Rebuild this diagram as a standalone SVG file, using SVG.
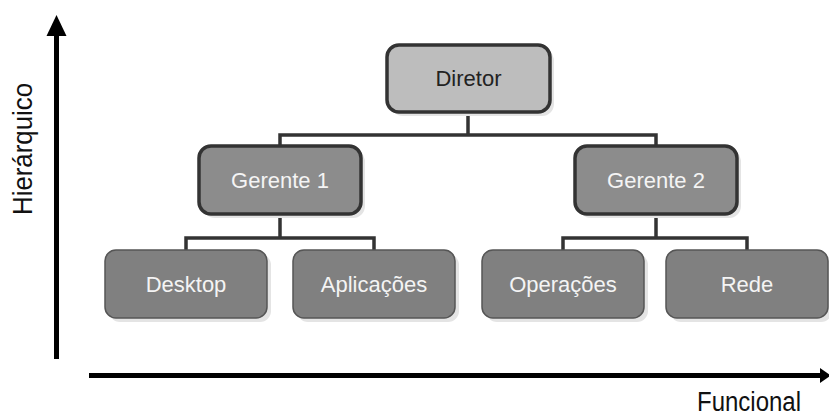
<svg xmlns="http://www.w3.org/2000/svg" width="829" height="416" viewBox="0 0 829 416">
<defs>
<style>
.shadow{fill:#e4e4e4;}
.top{fill:#bdbdbd;stroke:#333;stroke-width:3.5;}
.mid{fill:#8c8c8c;stroke:#333;stroke-width:3.5;}
.low{fill:#808080;stroke:#555;stroke-width:1.5;}
.t{font-family:"Liberation Sans",Arial,sans-serif;font-size:22px;text-anchor:middle;}
.dark{fill:#222;}
.light{fill:#f4f4f4;}
.con{fill:none;stroke:#333;stroke-width:3.5;}
.ax{font-family:"Liberation Sans",Arial,sans-serif;font-size:27px;fill:#111;}
</style>
</defs>
<rect width="829" height="416" fill="#fff"/>
<g id="axes">
<line x1="56.5" y1="359" x2="56.5" y2="34" stroke="#000" stroke-width="5"/>
<polygon points="46.5,36 56.5,15 66.5,36" fill="#000"/>
<line x1="89" y1="375.5" x2="822" y2="375.5" stroke="#000" stroke-width="5"/>
<polygon points="820,368 831,375.5 820,383" fill="#000"/>
<text class="ax" transform="translate(32,149) rotate(-90)" text-anchor="middle" textLength="132" lengthAdjust="spacingAndGlyphs">Hierárquico</text>
<text class="ax" x="697" y="411" textLength="104" lengthAdjust="spacingAndGlyphs">Funcional</text>
</g>
<g id="connectors">
<path class="con" d="M468,112V135M280,146V135H656V146"/>
<path class="con" d="M280,214V238M186,250V238H374V250"/>
<path class="con" d="M656,214V238M563,250V238H747V250"/>
</g>
<g id="diretor">
<rect class="shadow" x="391" y="49" width="163" height="67" rx="12"/>
<rect class="top" x="387" y="45" width="163" height="67" rx="12"/>
<text class="t dark" x="468.5" y="86">Diretor</text>
</g>
<g id="gerente1">
<rect class="shadow" x="203" y="150" width="162" height="68" rx="12"/>
<rect class="mid" x="199" y="146" width="162" height="68" rx="12"/>
<text class="t light" x="280" y="188">Gerente 1</text>
</g>
<g id="gerente2">
<rect class="shadow" x="579" y="150" width="162" height="68" rx="12"/>
<rect class="mid" x="575" y="146" width="162" height="68" rx="12"/>
<text class="t light" x="656" y="188">Gerente 2</text>
</g>
<g id="desktop">
<rect class="shadow" x="109" y="254" width="162" height="68" rx="11"/>
<rect class="low" x="105" y="250" width="162" height="68" rx="11"/>
<text class="t light" x="186" y="292">Desktop</text>
</g>
<g id="aplicacoes">
<rect class="shadow" x="297" y="254" width="162" height="68" rx="11"/>
<rect class="low" x="293" y="250" width="162" height="68" rx="11"/>
<text class="t light" x="374" y="292">Aplicações</text>
</g>
<g id="operacoes">
<rect class="shadow" x="486" y="254" width="162" height="68" rx="11"/>
<rect class="low" x="482" y="250" width="162" height="68" rx="11"/>
<text class="t light" x="563" y="292">Operações</text>
</g>
<g id="rede">
<rect class="shadow" x="670" y="254" width="162" height="68" rx="11"/>
<rect class="low" x="666" y="250" width="162" height="68" rx="11"/>
<text class="t light" x="747" y="292">Rede</text>
</g>
</svg>
